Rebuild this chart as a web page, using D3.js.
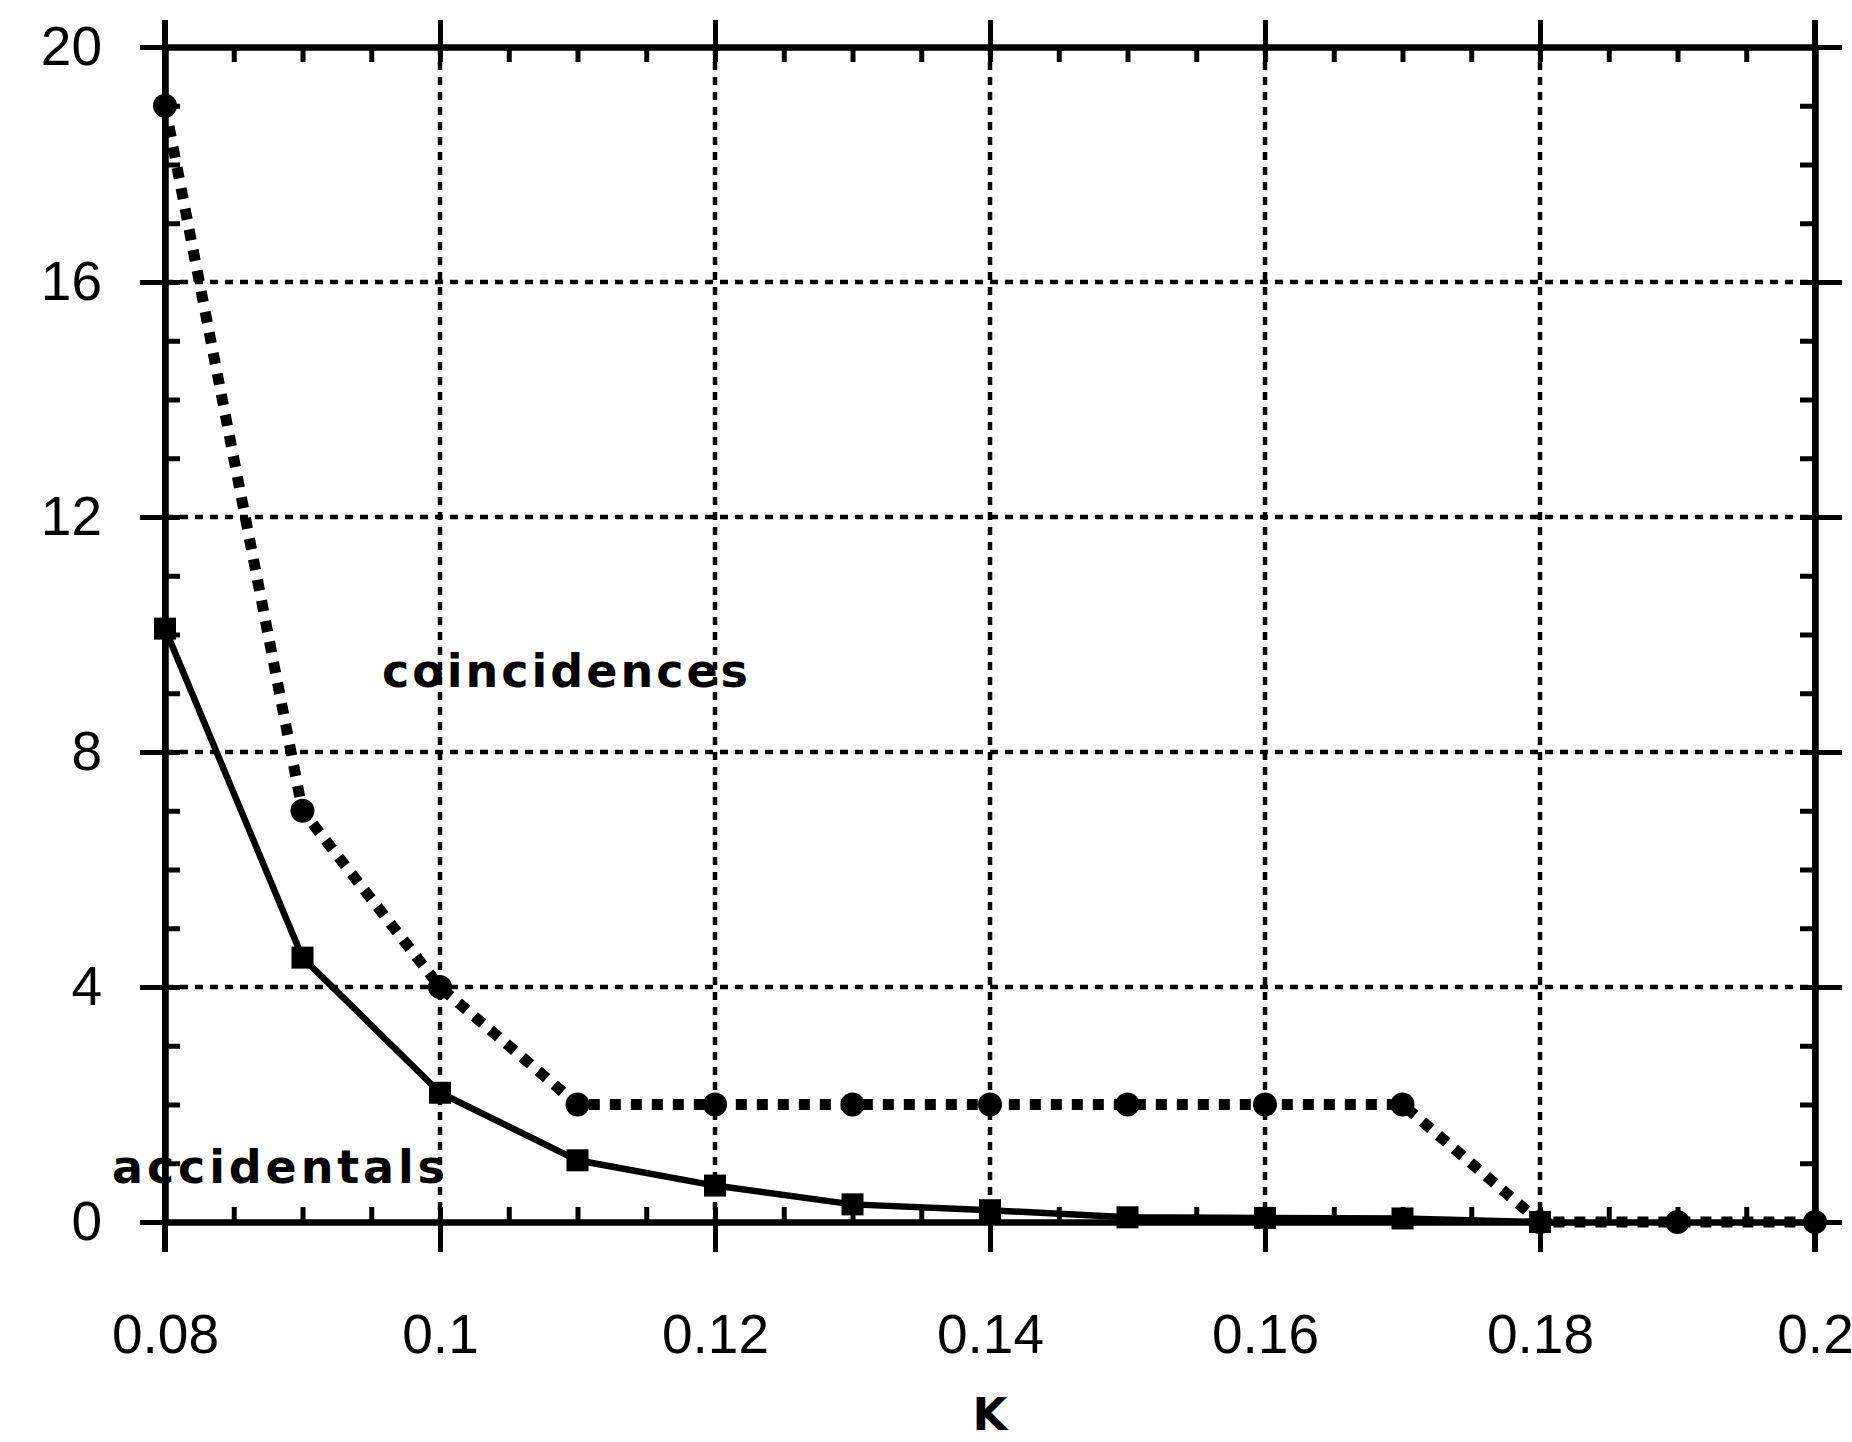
<!DOCTYPE html>
<html>
<head>
<meta charset="utf-8">
<script src="https://cdn.jsdelivr.net/npm/d3@7"></script>
<style>
  body { margin: 0; background: #fff; }
  svg { display: block; }
</style>
</head>
<body>
<script>
// K values and the two measured series
const kValues = [0.08, 0.09, 0.1, 0.11, 0.12, 0.13, 0.14, 0.15, 0.16, 0.17, 0.18, 0.19, 0.2]
const coincidences = [19, 7, 4, 2, 2, 2, 2, 2, 2, 2, 0, 0, 0]
const accidentals = [10.1, 4.5, 2.2, 1.05, 0.62, 0.3, 0.2, 0.08, 0.07, 0.06, 0]

const xMajor = [0.08, 0.1, 0.12, 0.14, 0.16, 0.18, 0.2]
const xLabels = ["0.08", "0.1", "0.12", "0.14", "0.16", "0.18", "0.2"]
const yMajor = [0, 4, 8, 12, 16, 20]
const xMinor = d3.range(0, 25).map(i => +(0.08 + i * 0.005).toFixed(3))
const yMinor = d3.range(0, 21)

const width = 1852
const height = 1442
const margin = { top: 47, right: 37, bottom: 220, left: 165 }
const font = "'Liberation Sans', Arial, sans-serif"
const boldFont = "'DejaVu Sans', sans-serif"

const x = d3.scaleLinear().domain([0.08, 0.2]).range([margin.left, width - margin.right])
const y = d3.scaleLinear().domain([0, 20]).range([height - margin.bottom, margin.top])

const svg = d3.select("body").append("svg")
    .attr("xmlns", "http://www.w3.org/2000/svg")
    .attr("width", width)
    .attr("height", height)

svg.append("rect").attr("width", width).attr("height", height).attr("fill", "#fff")

// dotted grid
const grid = svg.append("g")
    .attr("stroke", "#000")
    .attr("stroke-width", 4.5)
    .attr("stroke-dasharray", "8 7")

grid.selectAll("line.gx")
    .data(xMajor.slice(1, -1))
    .enter()
    .append("line")
    .attr("x1", d => x(d))
    .attr("x2", d => x(d))
    .attr("y1", y(20))
    .attr("y2", y(0))

grid.selectAll("line.gy")
    .data(yMajor.slice(1, -1))
    .enter()
    .append("line")
    .attr("x1", x(0.08))
    .attr("x2", x(0.2))
    .attr("y1", d => y(d))
    .attr("y2", d => y(d))

const styleAxis = (g, w) => {
    g.select(".domain").attr("stroke-width", w)
    g.selectAll(".tick line").attr("stroke-width", 5)
    g.attr("font-family", font)
}

// major ticks point outward, minor ticks point inward
const bottomMajor = svg.append("g")
    .attr("transform", `translate(0,${y(0)})`)
    .call(d3.axisBottom(x).tickValues(xMajor).tickFormat((d, i) => xLabels[i]).tickSize(30).tickPadding(62).tickSizeOuter(0))
styleAxis(bottomMajor, 6)
bottomMajor.selectAll("text").attr("font-size", 55).attr("fill", "#000")

svg.append("g")
    .attr("transform", `translate(0,${y(0)})`)
    .call(d3.axisTop(x).tickValues(xMinor).tickFormat("").tickSize(15).tickSizeOuter(0))
    .call(g => styleAxis(g, 6))

const topMajor = svg.append("g")
    .attr("transform", `translate(0,${y(20)})`)
    .call(d3.axisTop(x).tickValues(xMajor).tickFormat("").tickSize(27).tickSizeOuter(0))
styleAxis(topMajor, 6)

svg.append("g")
    .attr("transform", `translate(0,${y(20)})`)
    .call(d3.axisBottom(x).tickValues(xMinor).tickFormat("").tickSize(15).tickSizeOuter(0))
    .call(g => styleAxis(g, 6))

const leftMajor = svg.append("g")
    .attr("transform", `translate(${x(0.08)},0)`)
    .call(d3.axisLeft(y).tickValues(yMajor).tickSize(25).tickPadding(38).tickSizeOuter(0))
styleAxis(leftMajor, 6)
leftMajor.selectAll("text").attr("font-size", 55).attr("fill", "#000")

svg.append("g")
    .attr("transform", `translate(${x(0.08)},0)`)
    .call(d3.axisRight(y).tickValues(yMinor).tickFormat("").tickSize(15).tickSizeOuter(0))
    .call(g => styleAxis(g, 6))

const rightMajor = svg.append("g")
    .attr("transform", `translate(${x(0.2)},0)`)
    .call(d3.axisRight(y).tickValues(yMajor).tickFormat("").tickSize(27).tickSizeOuter(0))
styleAxis(rightMajor, 6)

svg.append("g")
    .attr("transform", `translate(${x(0.2)},0)`)
    .call(d3.axisLeft(y).tickValues(yMinor).tickFormat("").tickSize(15).tickSizeOuter(0))
    .call(g => styleAxis(g, 6))

// extend vertical frame lines past the corners
svg.append("g")
    .attr("stroke", "#000")
    .attr("stroke-width", 6)
    .selectAll("line")
    .data([0.08, 0.2])
    .enter()
    .append("line")
    .attr("x1", d => x(d))
    .attr("x2", d => x(d))
    .attr("y1", y(20) - 27)
    .attr("y2", y(0) + 30)

// accidentals: solid line with squares
const accData = accidentals.map((v, i) => [kValues[i], v])
const line = d3.line().x(d => x(d[0])).y(d => y(d[1]))

svg.append("path")
    .datum(accData)
    .attr("fill", "none")
    .attr("stroke", "#000")
    .attr("stroke-width", 6.5)
    .attr("d", line)

svg.append("g")
    .selectAll("rect")
    .data(accData)
    .enter()
    .append("rect")
    .attr("x", d => x(d[0]) - 11)
    .attr("y", d => y(d[1]) - 11)
    .attr("width", 22)
    .attr("height", 22)
    .attr("fill", "#000")

// coincidences: heavy dotted line with dots
const coData = coincidences.map((v, i) => [kValues[i], v])

svg.append("path")
    .datum(coData)
    .attr("fill", "none")
    .attr("stroke", "#000")
    .attr("stroke-width", 11)
    .attr("stroke-dasharray", "11 10")
    .attr("d", line)

svg.append("g")
    .selectAll("circle")
    .data(coData)
    .enter()
    .append("circle")
    .attr("cx", d => x(d[0]))
    .attr("cy", d => y(d[1]))
    .attr("r", 12)
    .attr("fill", "#000")

// series labels
svg.append("text")
    .attr("x", 382)
    .attr("y", 687)
    .attr("font-family", boldFont)
    .attr("font-weight", "bold")
    .attr("font-size", 46)
    .attr("textLength", 366)
    .attr("lengthAdjust", "spacing")
    .text("coincidences")

svg.append("text")
    .attr("x", 112)
    .attr("y", 1183)
    .attr("font-family", boldFont)
    .attr("font-weight", "bold")
    .attr("font-size", 46)
    .attr("textLength", 333)
    .attr("lengthAdjust", "spacing")
    .text("accidentals")

svg.append("text")
    .attr("x", (x(0.08) + x(0.2)) / 2)
    .attr("y", 1430)
    .attr("text-anchor", "middle")
    .attr("font-family", boldFont)
    .attr("font-weight", "bold")
    .attr("font-size", 45)
    .text("K")
</script>
</body>
</html>
